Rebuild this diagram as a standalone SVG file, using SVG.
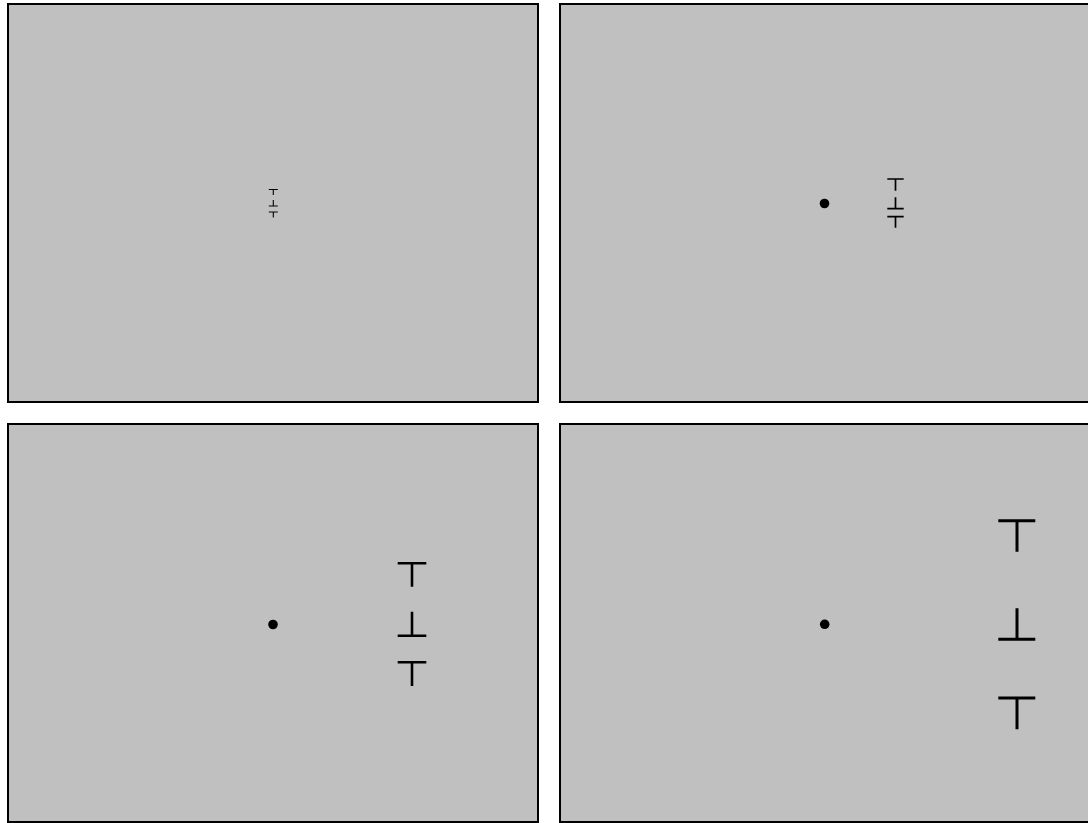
<svg xmlns="http://www.w3.org/2000/svg" width="1088" height="823" viewBox="0 0 1088 823">
<style>
.panel{fill:#c0c0c0;stroke:#000;stroke-width:2}
.sym{stroke:#000;fill:none;stroke-linecap:butt}
.dot{fill:#000}
</style>
<rect width="1088" height="823" fill="#fff"/>
<g id="panel-tl">
<rect class="panel" x="8" y="4" width="530" height="398"/>
<path class="sym" stroke-width="1.1" d="M268.8 189.5H277.8M273.3 189.5V195 M273.3 200V206M268.8 206H277.8 M268.8 212H277.8M273.3 212V217.5"/>
</g>
<g id="panel-tr">
<rect class="panel" x="560" y="4" width="530" height="398"/>
<circle class="dot" cx="824.5" cy="203.5" r="4.8"/>
<path class="sym" stroke-width="1.7" d="M887.3 179H903.7M895.5 179V190.7 M895.5 197.3V208.7M887.3 208.7H903.7 M887.3 216.7H903.7M895.5 216.7V227.7"/>
</g>
<g id="panel-bl">
<rect class="panel" x="8" y="424" width="530" height="398"/>
<circle class="dot" cx="273" cy="624.5" r="4.8"/>
<path class="sym" stroke-width="2.6" d="M397.7 563.3H426.3M412 563.3V586.7 M412 611.7V635.7M397.7 635.7H426.3 M397.7 662.3H426.3M412 662.3V686"/>
</g>
<g id="panel-br">
<rect class="panel" x="560" y="424" width="530" height="398"/>
<circle class="dot" cx="824.7" cy="624.3" r="4.8"/>
<path class="sym" stroke-width="3" d="M998.3 520.7H1035.3M1017 520.7V551.7 M1017 608.3V639.3M998.3 639.3H1035.3 M998.3 698H1035.3M1017 698V729.3"/>
</g>
<g id="connectors"/>
</svg>
